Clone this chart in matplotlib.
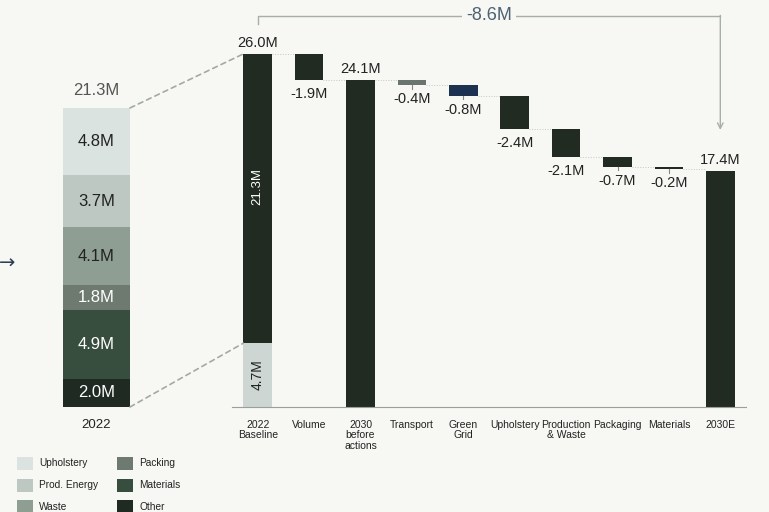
import matplotlib
matplotlib.use("Agg")
import matplotlib.pyplot as plt
from matplotlib.patches import Rectangle, ConnectionPatch

plt.rcParams['font.family'] = ['Liberation Sans', 'DejaVu Sans']

# ---------------- data ----------------
seg_names = ["Other", "Materials", "Packing", "Waste", "Prod. Energy", "Upholstery"]
seg_values = [2.0, 4.9, 1.8, 4.1, 3.7, 4.8]
seg_colors = ["#1f2a22", "#374d3d", "#6e7a70", "#8e9e93", "#bcc8c1", "#dae3df"]
seg_text = ["white", "white", "white", "#222222", "#222222", "#222222"]
left_total = 21.3
left_year = "2022"

wf_labels = ["2022\nBaseline", "Volume", "2030\nbefore\nactions", "Transport", "Green\nGrid",
             "Upholstery", "Production\n& Waste", "Packaging", "Materials", "2030E"]
wf_kind = ["total", "delta", "total", "delta", "delta", "delta", "delta", "delta", "delta", "total"]
wf_values = [26.0, -1.9, 24.1, -0.4, -0.8, -2.4, -2.1, -0.7, -0.2, 17.4]
wf_colors = ["#212b22", "#212b22", "#212b22", "#6b7570", "#1d3250", "#212b22",
             "#212b22", "#212b22", "#212b22", "#212b22"]
base_split = [4.7, 21.3]   # 2022 baseline: excluded part / matched part
base_split_colors = ["#ced6d4", "#212b22"]
total_change = -8.6

BG = "#f7f7f3"
DARK = "#222222"

fig = plt.figure(figsize=(7.69, 5.12), dpi=100, facecolor=BG)
W, H = 769, 512

def ax_rect(x0, x1, ybot, ytop):
    return [x0 / W, (H - ybot) / H, (x1 - x0) / W, (ybot - ytop) / H]

# ---------------- waterfall ----------------
ax = fig.add_axes(ax_rect(232, 746, 407, 6.4))
ax.set_facecolor(BG)
ax.set_xlim(-0.5, len(wf_labels) - 0.5)
ax.set_ylim(0, 29.5)
bw = 0.56
level = 0.0
prev_level = None
for i, (k, v, c) in enumerate(zip(wf_kind, wf_values, wf_colors)):
    if k == "total":
        if i == 0:
            b = 0
            for sv, sc in zip(base_split, base_split_colors):
                ax.bar(i, sv, bottom=b, width=bw, color=sc, edgecolor='none')
                b += sv
            ax.text(i, base_split[0] / 2, f"{base_split[0]:.1f}M", rotation=90, ha='center',
                    va='center', fontsize=10, color=DARK)
            ax.text(i, base_split[0] + base_split[1] * 0.54, f"{base_split[1]:.1f}M", rotation=90,
                    ha='center', va='center', fontsize=9.5, color='white')
        else:
            ax.bar(i, v, width=bw, color=c, edgecolor='none')
        ax.annotate(f"{v:.1f}M", (i, v), xytext=(0, 3), textcoords='offset points',
                    ha='center', va='bottom', fontsize=10.5, color=DARK)
        new_level = v
    else:
        new_level = level + v
        ax.bar(i, -v, bottom=new_level, width=bw, color=c, edgecolor='none')
        if abs(v) < 1:
            ax.plot([i, i], [new_level, new_level - 0.25], color="#888888", lw=0.8)
        ax.annotate(f"{v:.1f}M", (i, new_level), xytext=(0, -5), textcoords='offset points',
                    ha='center', va='top', fontsize=10.5, color=DARK)
    if prev_level is not None:
        ax.plot([i - 1 + bw / 2, i - bw / 2], [prev_level, prev_level], color="#c4c8c6",
                lw=0.7, ls=':')
    level = new_level
    prev_level = new_level

# bracket for total change
n = len(wf_labels)
yb = 28.8
ax.plot([0, 0, n - 1], [28.2, yb, yb], color="#a8aeab", lw=1, clip_on=False)
ax.annotate("", xy=(n - 1, 20.4), xytext=(n - 1, yb + 0.04),
            arrowprops=dict(arrowstyle='->', color="#a8aeab", lw=1, shrinkA=0, shrinkB=0))
ax.text((n - 1) / 2, yb, f"{total_change:.1f}M", ha='center', va='center', fontsize=13,
        color="#4d6272", bbox=dict(boxstyle='square,pad=0.25', fc=BG, ec='none'))

ax.set_xticks(range(n))
ax.set_xticklabels(wf_labels, fontsize=7.5, color=DARK, linespacing=1.1)
ax.tick_params(axis='x', length=0, pad=9)
ax.set_yticks([])
for s in ["top", "right", "left"]:
    ax.spines[s].set_visible(False)
ax.spines["bottom"].set_color("#9a9e9c")
ax.spines["bottom"].set_linewidth(0.8)

# ---------------- left stacked bar ----------------
axl = fig.add_axes(ax_rect(63, 130, 407, 407 - 24 * 14.04))
axl.set_facecolor('none')
axl.set_xlim(-0.5, 0.5)
axl.set_ylim(0, 24)
b = 0
for v, c, tc in zip(seg_values, seg_colors, seg_text):
    axl.bar(0, v, bottom=b, width=1.0, color=c, edgecolor='none')
    axl.text(0, b + v / 2, f"{v:.1f}M", ha='center', va='center', fontsize=12, color=tc)
    b += v
axl.annotate(f"{left_total:.1f}M", (0, left_total), xytext=(0, 7), textcoords='offset points',
             ha='center', va='bottom', fontsize=12, color="#555555")
axl.set_xticks([0])
axl.set_xticklabels([left_year], fontsize=9.5, color=DARK)
axl.tick_params(axis='x', length=0, pad=9)
axl.set_yticks([])
for s in axl.spines.values():
    s.set_visible(False)

# dashed connectors
for ya, yb_ in [(left_total, base_split[0] + base_split[1]), (0, base_split[0])]:
    con = ConnectionPatch(xyA=(0.5, ya), coordsA=axl.transData,
                          xyB=(-bw / 2, yb_), coordsB=ax.transData,
                          color="#a3aaa6", lw=1.2, ls=(0, (3, 2.5)))
    fig.add_artist(con)

# arrow at far left
fig.text(-1 / W, 1 - 263 / H, "→", fontsize=14, color="#2c3e50", ha='left', va='center',
         family=['DejaVu Sans'])

# ---------------- legend ----------------
leg_order = ["Upholstery", "Prod. Energy", "Waste", "Packing", "Materials", "Other"]
for j, name in enumerate(leg_order):
    col, row = divmod(j, 3)
    x0 = 17 + col * 100
    yc = 463.5 + row * 21.5
    c = seg_colors[seg_names.index(name)]
    fig.add_artist(Rectangle((x0 / W, 1 - (yc + 6.5) / H), 16 / W, 13 / H,
                             transform=fig.transFigure, fc=c, ec='none'))
    fig.text((x0 + 22) / W, 1 - yc / H, name, fontsize=7.3, color=DARK, ha='left', va='center')

fig.savefig("out.png", dpi=100, facecolor=BG)
